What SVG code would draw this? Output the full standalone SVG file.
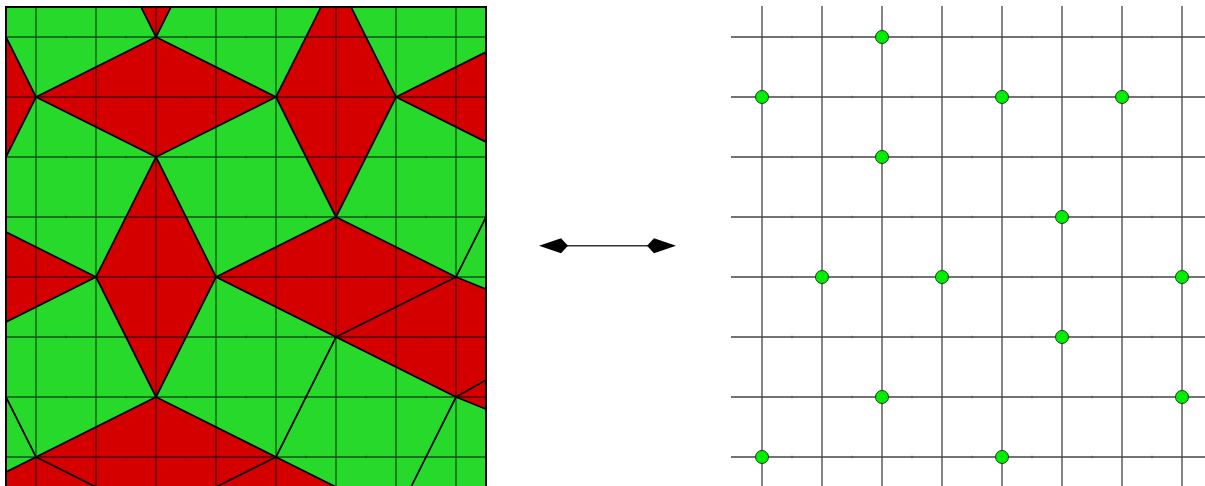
<svg xmlns="http://www.w3.org/2000/svg" width="1205" height="486" viewBox="0 0 1205 486">
<defs>
<clipPath id="panel"><rect x="6" y="7" width="480" height="480"/></clipPath>
<style>
.red{fill:#d40000}
.edge{fill:none;stroke:#000;stroke-width:1.7;stroke-linejoin:round;stroke-linecap:round}
.lgrid{stroke:#000;stroke-opacity:0.6;stroke-width:1.3;fill:none}
.rgrid{stroke:#444;stroke-width:1.3;fill:none}
.tick{stroke:#000;stroke-opacity:0.3;stroke-width:1;fill:none}
.dot{fill:#00ee00;stroke:#1a3a1a;stroke-width:1}
.aline{stroke:#333;stroke-width:1.6}
.head{fill:#000}
</style>
</defs>
<rect width="1205" height="486" fill="#fff"/>
<g id="tiling" clip-path="url(#panel)">
<rect x="6" y="7" width="480" height="480" fill="#26d92b"/>
<polygon class="red" points="156,-203 96,-83 156,37 216,-83"/>
<polygon class="red" points="156,37 36,97 156,157 276,97"/>
<polygon class="red" points="336,-23 276,97 336,217 396,97"/>
<polygon class="red" points="36,97 -24,-23 -84,97 -24,217"/>
<polygon class="red" points="396,97 516,37 636,97 516,157"/>
<polygon class="red" points="156,157 96,277 156,397 216,277"/>
<polygon class="red" points="336,217 216,277 336,337 456,277"/>
<polygon class="red" points="96,277 -24,217 -144,277 -24,337"/>
<polygon class="red" points="336,337 456,277 580,327 580,447 456,397"/>
<polygon class="red" points="156,397 36,457 -84,517 -84,540 396,540 396,517 276,457"/>
<path class="lgrid" d="M36,7V487M96,7V487M156,7V487M216,7V487M276,7V487M336,7V487M396,7V487M456,7V487M6,37H486M6,97H486M6,157H486M6,217H486M6,277H486M6,337H486M6,397H486M6,457H486"/>
<path class="tick" d="M66,35.5v3m60,-3v3m60,-3v3m60,-3v3m60,-3v3m60,-3v3m60,-3v3M66,95.5v3m60,-3v3m60,-3v3m60,-3v3m60,-3v3m60,-3v3m60,-3v3M66,155.5v3m60,-3v3m60,-3v3m60,-3v3m60,-3v3m60,-3v3m60,-3v3M66,215.5v3m60,-3v3m60,-3v3m60,-3v3m60,-3v3m60,-3v3m60,-3v3M66,275.5v3m60,-3v3m60,-3v3m60,-3v3m60,-3v3m60,-3v3m60,-3v3M66,335.5v3m60,-3v3m60,-3v3m60,-3v3m60,-3v3m60,-3v3m60,-3v3M66,395.5v3m60,-3v3m60,-3v3m60,-3v3m60,-3v3m60,-3v3m60,-3v3M66,455.5v3m60,-3v3m60,-3v3m60,-3v3m60,-3v3m60,-3v3m60,-3v3"/>
<path class="edge" d="M96,-83L156,37L216,-83M156,37L36,97L156,157L276,97ZM336,-23L276,97L336,217L396,97ZM-24,-23L36,97L-24,217M516,37L396,97L516,157M156,157L96,277L156,397L216,277ZM336,217L216,277L336,337L456,277ZM-24,217L96,277L-24,337M516,157L456,277L580,327L456,397L580,447M336,337L456,397L396,517L276,457ZM156,397L36,457L156,517L276,457ZM-24,337L36,457L-84,517"/>
</g>
<rect x="6" y="7" width="480" height="480" fill="none" stroke="#000" stroke-width="2"/>
<g id="connectors">
<line class="aline" x1="565" y1="245.7" x2="650" y2="245.7"/>
<polygon class="head" points="539,245.7 561,238.3 568,245.7 561,253.3"/>
<polygon class="head" points="676,245.7 654,238.3 647,245.7 654,253.3"/>
</g>
<g id="lattice">
<path class="rgrid" d="M762,6V486M822,6V486M882,6V486M942,6V486M1002,6V486M1062,6V486M1122,6V486M1182,6V486M731,37H1205M731,97H1205M731,157H1205M731,217H1205M731,277H1205M731,337H1205M731,397H1205M731,457H1205"/>
<path class="tick" d="M792,35.5v3m60,-3v3m60,-3v3m60,-3v3m60,-3v3m60,-3v3m60,-3v3M792,95.5v3m60,-3v3m60,-3v3m60,-3v3m60,-3v3m60,-3v3m60,-3v3M792,155.5v3m60,-3v3m60,-3v3m60,-3v3m60,-3v3m60,-3v3m60,-3v3M792,215.5v3m60,-3v3m60,-3v3m60,-3v3m60,-3v3m60,-3v3m60,-3v3M792,275.5v3m60,-3v3m60,-3v3m60,-3v3m60,-3v3m60,-3v3m60,-3v3M792,335.5v3m60,-3v3m60,-3v3m60,-3v3m60,-3v3m60,-3v3m60,-3v3M792,395.5v3m60,-3v3m60,-3v3m60,-3v3m60,-3v3m60,-3v3m60,-3v3M792,455.5v3m60,-3v3m60,-3v3m60,-3v3m60,-3v3m60,-3v3m60,-3v3"/>
</g>
<g id="p1"><circle class="dot" cx="882" cy="37" r="6.5"/></g>
<g id="p2"><circle class="dot" cx="762" cy="97" r="6.5"/></g>
<g id="p3"><circle class="dot" cx="1002" cy="97" r="6.5"/></g>
<g id="p4"><circle class="dot" cx="1122" cy="97" r="6.5"/></g>
<g id="p5"><circle class="dot" cx="882" cy="157" r="6.5"/></g>
<g id="p6"><circle class="dot" cx="1062" cy="217" r="6.5"/></g>
<g id="p7"><circle class="dot" cx="822" cy="277" r="6.5"/></g>
<g id="p8"><circle class="dot" cx="942" cy="277" r="6.5"/></g>
<g id="p9"><circle class="dot" cx="1182" cy="277" r="6.5"/></g>
<g id="p10"><circle class="dot" cx="1062" cy="337" r="6.5"/></g>
<g id="p11"><circle class="dot" cx="882" cy="397" r="6.5"/></g>
<g id="p12"><circle class="dot" cx="1182" cy="397" r="6.5"/></g>
<g id="p13"><circle class="dot" cx="762" cy="457" r="6.5"/></g>
<g id="p14"><circle class="dot" cx="1002" cy="457" r="6.5"/></g>
</svg>
